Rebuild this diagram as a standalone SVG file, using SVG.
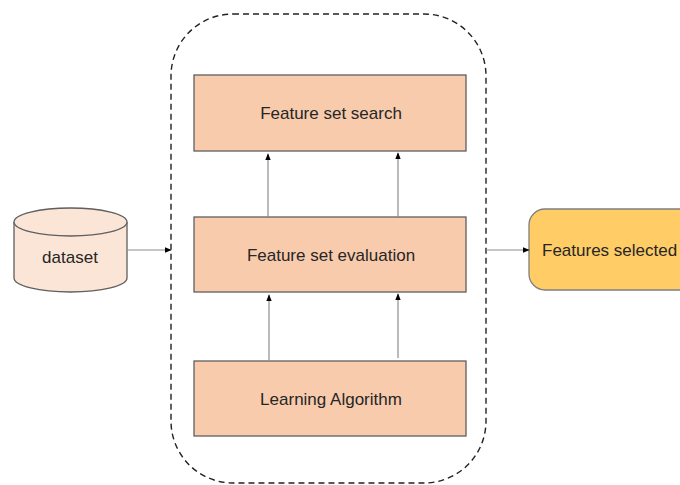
<svg xmlns="http://www.w3.org/2000/svg" width="680" height="485" viewBox="0 0 680 485">
  <defs>
    <marker id="arrow" viewBox="0 0 10 10" refX="9" refY="5" markerWidth="7" markerHeight="7" orient="auto" markerUnits="userSpaceOnUse">
      <path d="M0,1 L10,5 L0,9 Z" fill="#000"/>
    </marker>
    <style>
      .box { fill: #F8CBAD; stroke: #5f5f5f; stroke-width: 1.3; }
      .lbl { font-family: "Liberation Sans", Arial, sans-serif; font-size: 17px; fill: #262626; text-anchor: middle; dominant-baseline: central; }
      .conn { stroke: #8c8c8c; stroke-width: 1.2; fill: none; marker-end: url(#arrow); }
    </style>
  </defs>
  <rect width="680" height="485" fill="#fff"/>

  <!-- dashed container around the selection loop -->
  <g id="container">
    <rect x="171" y="14" width="315" height="469" rx="62" ry="62" fill="none" stroke="#222" stroke-width="1.4" stroke-dasharray="6,4"/>
  </g>

  <g id="dataset">
    <path d="M14,222 L14,278 A56.5,14 0 0 0 127,278 L127,222" fill="#FBE5D6" stroke="#5f5f5f" stroke-width="1.3"/>
    <ellipse cx="70.5" cy="222" rx="56.5" ry="14" fill="#FBE5D6" stroke="#5f5f5f" stroke-width="1.3"/>
    <text class="lbl" x="70" y="257">dataset</text>
  </g>

  <g id="search">
    <rect class="box" x="194" y="75" width="272" height="76"/>
    <text class="lbl" x="331" y="113">Feature set search</text>
  </g>

  <g id="evaluation">
    <rect class="box" x="194" y="217" width="272" height="75"/>
    <text class="lbl" x="331" y="255">Feature set evaluation</text>
  </g>

  <g id="learning">
    <rect class="box" x="194" y="361" width="272" height="75"/>
    <text class="lbl" x="331" y="399">Learning Algorithm</text>
  </g>

  <g id="selected">
    <rect x="529" y="209" width="170" height="81" rx="16" ry="16" fill="#FFCC66" stroke="#7f7f7f" stroke-width="1.3"/>
    <text class="lbl" x="542" y="250" style="text-anchor:start">Features selected</text>
  </g>

  <g id="connectors">
    <line class="conn" x1="127" y1="250" x2="171" y2="250"/>
    <line class="conn" x1="486" y1="250" x2="529" y2="250"/>
    <line class="conn" x1="268" y1="217" x2="268" y2="154"/>
    <line class="conn" x1="398" y1="217" x2="398" y2="153"/>
    <line class="conn" x1="269" y1="360" x2="269" y2="295"/>
    <line class="conn" x1="398" y1="358" x2="398" y2="294"/>
  </g>
</svg>
